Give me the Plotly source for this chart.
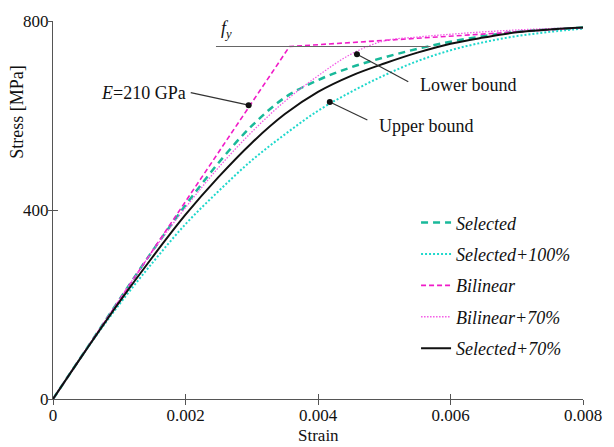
import plotly.graph_objects as go

# ---- data ----
strain = [0, 0.0005, 0.001, 0.0015, 0.002, 0.0025, 0.003, 0.0035, 0.004,
          0.0045, 0.005, 0.0055, 0.006, 0.0065, 0.007, 0.0075, 0.008]
selected = [0, 105, 210, 313, 410, 500, 578, 638, 675, 702, 723, 741, 756, 768, 777, 782, 786]
selected_100 = [0, 104, 200, 288, 370, 440, 505, 560, 610, 650, 685, 715, 738, 755, 768, 777, 784]
bilinear_70 = [0, 105, 210, 312, 405, 490, 565, 630, 684, 730, 758, 766, 772, 777, 781, 784, 786]
selected_70 = [0, 104, 205, 300, 390, 470, 542, 603, 650, 684, 710, 733, 752, 765, 776, 782, 786]
bilinear_strain = [0, 0.00357, 0.008]
bilinear = [0, 746, 786]

x_ticks = [0, 0.002, 0.004, 0.006, 0.008]
x_ticklabels = ["0", "0.002", "0.004", "0.006", "0.008"]
y_ticks = [0, 400, 800]
y_ticklabels = ["0", "400", "800"]

# annotation anchors (data coordinates)
fy_line_x = [0.00246, 0.00570]
fy_line_y = [746, 746]
e_dot = (0.002953, 621.8)
e_line_end = (0.002079, 648.3)
lower_dot = (0.004588, 729.7)
lower_line_end = (0.005363, 671.3)
upper_dot = (0.004178, 628.7)
upper_line_end = (0.004745, 590.5)

FONT = "Liberation Serif"

fig = go.Figure()

fig.add_trace(go.Scatter(x=strain, y=selected, mode="lines", name="<i>Selected</i>",
                         line=dict(color="#19b99a", width=2.5, dash="7px,5px", shape="spline"),
                         legendgroup="a"))
fig.add_trace(go.Scatter(x=strain, y=selected_100, mode="lines", name="<i>Selected+100%</i>",
                         line=dict(color="#1fd8cc", width=2, dash="2px,2px", shape="spline"),
                         legendgroup="b"))
fig.add_trace(go.Scatter(x=bilinear_strain, y=bilinear, mode="lines", name="<i>Bilinear</i>",
                         line=dict(color="#f01bc8", width=1.6, dash="5px,3px"),
                         legendgroup="c"))
fig.add_trace(go.Scatter(x=strain, y=bilinear_70, mode="lines", name="<i>Bilinear+70%</i>",
                         line=dict(color="#f45ae6", width=1.3, dash="1.5px,1.5px", shape="spline"),
                         legendgroup="d"))
fig.add_trace(go.Scatter(x=strain, y=selected_70, mode="lines", name="<i>Selected+70%</i>",
                         line=dict(color="#111111", width=2, shape="spline"),
                         legendgroup="e"))

# fy reference line
fig.add_trace(go.Scatter(x=fy_line_x, y=fy_line_y, mode="lines", showlegend=False,
                         line=dict(color="#666666", width=1.2), hoverinfo="skip"))
# leader lines
for (d, e) in [(e_dot, e_line_end), (lower_dot, lower_line_end), (upper_dot, upper_line_end)]:
    fig.add_trace(go.Scatter(x=[d[0], e[0]], y=[d[1], e[1]], mode="lines", showlegend=False,
                             line=dict(color="#333333", width=1.2), hoverinfo="skip"))
fig.add_trace(go.Scatter(x=[e_dot[0], lower_dot[0], upper_dot[0]],
                         y=[e_dot[1], lower_dot[1], upper_dot[1]],
                         mode="markers", showlegend=False, hoverinfo="skip",
                         marker=dict(color="#111111", size=6)))
# helper trace for outer tick marks
fig.add_trace(go.Scatter(x=[None], y=[None], xaxis="x2", yaxis="y2", showlegend=False))

fig.add_annotation(x=e_line_end[0], y=e_line_end[1], text="<i>E</i>=210 GPa", showarrow=False,
                   xanchor="right", yanchor="middle", xshift=-3, font=dict(family=FONT, size=18, color="#111"))
fig.add_annotation(x=0.005511, y=665.6, text="Lower bound", showarrow=False,
                   xanchor="left", yanchor="middle", font=dict(family=FONT, size=18, color="#111"))
fig.add_annotation(x=0.00489, y=578.6, text="Upper bound", showarrow=False,
                   xanchor="left", yanchor="middle", font=dict(family=FONT, size=18, color="#111"))
fig.add_annotation(x=0.00251, y=782, text="<i>f</i><sub><i>y</i></sub>", showarrow=False,
                   xanchor="left", yanchor="middle", font=dict(family=FONT, size=18, color="#111"))
fig.add_annotation(xref="paper", yref="paper", x=-0.068, y=0.76, text="Stress [MPa]", textangle=-90,
                   showarrow=False, xanchor="center", yanchor="middle",
                   font=dict(family=FONT, size=18, color="#111"))
fig.add_annotation(xref="paper", yref="paper", x=0.5, y=-0.096, text="Strain",
                   showarrow=False, xanchor="center", yanchor="middle",
                   font=dict(family=FONT, size=17, color="#111"))

axis_common = dict(showgrid=False, zeroline=False, showline=True, linecolor="#555555", linewidth=1.3,
                   ticks="inside", ticklen=5, tickwidth=1.3, tickcolor="#555555",
                   tickfont=dict(family=FONT, size=17, color="#111"))

fig.update_layout(
    width=614, height=447,
    margin=dict(l=53, r=21, t=16, b=48),
    paper_bgcolor="white", plot_bgcolor="white",
    font=dict(family=FONT, size=18, color="#111"),
    xaxis=dict(range=[0, 0.008], tickvals=x_ticks, ticktext=x_ticklabels, **axis_common),
    yaxis=dict(range=[0, 800], tickvals=y_ticks, ticktext=y_ticklabels, **axis_common),
    xaxis2=dict(range=[0, 0.008], overlaying="x", tickvals=x_ticks, showticklabels=False, showline=False,
                showgrid=False, zeroline=False, ticks="outside", ticklen=5, tickwidth=1.3, tickcolor="#555555",
                side="bottom"),
    yaxis2=dict(range=[0, 800], overlaying="y", tickvals=y_ticks, showticklabels=False, showline=False,
                showgrid=False, zeroline=False, ticks="outside", ticklen=5, tickwidth=1.3, tickcolor="#555555",
                side="left"),
    legend=dict(x=0.685, y=0.515, xanchor="left", yanchor="top", bgcolor="rgba(0,0,0,0)",
                font=dict(family=FONT, size=18, color="#111"), tracegroupgap=5, itemwidth=30),
    showlegend=True,
)

fig.write_html("out.html")
